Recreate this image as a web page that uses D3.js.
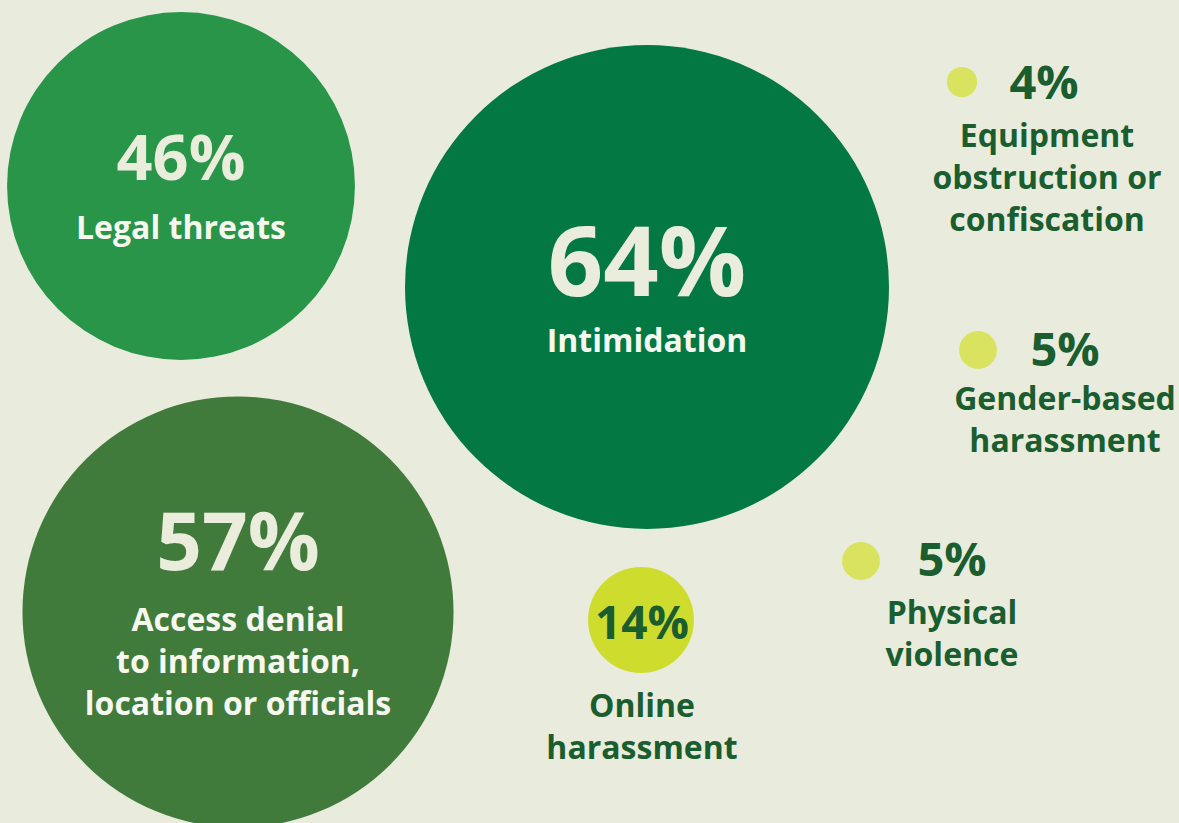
<!DOCTYPE html>
<html>
<head>
<meta charset="utf-8">
<script src="https://cdn.jsdelivr.net/npm/d3@7"></script>
<style>
  html, body { margin: 0; padding: 0; background: #e9ecdc; }
  svg { display: block; }
  text { font-family: "Open Sans", "Noto Sans", sans-serif; font-weight: 700; }
</style>
</head>
<body>
<svg id="chart" width="1179" height="823"></svg>
<script>
// Share of respondents reporting each type of obstruction
const categories = [
  "Legal threats",
  "Intimidation",
  "Access denial to information, location or officials",
  "Online harassment",
  "Equipment obstruction or confiscation",
  "Gender-based harassment",
  "Physical violence"
];
const values = [46, 64, 57, 14, 4, 5, 5];
const labelLines = [
  ["Legal threats"],
  ["Intimidation"],
  ["Access denial", "to information,", "location or officials"],
  ["Online", "harassment"],
  ["Equipment", "obstruction or", "confiscation"],
  ["Gender-based", "harassment"],
  ["Physical", "violence"]
];

// Hand-placed bubble layout (centre, where the value and the label sit)
const layout = [
  { cx: 181, cy: 186, fill: "#289548", inside: true,  vx: 181, vy: 180, vSize: 63, lx: 181, ly: 239 },
  { cx: 647, cy: 287, fill: "#037843", inside: true,  vx: 647, vy: 296, vSize: 97, lx: 647, ly: 352 },
  { cx: 238, cy: 612, fill: "#417b3b", inside: true,  vx: 238, vy: 570, vSize: 80, lx: 238, ly: 631 },
  { cx: 641, cy: 620, fill: "#cddc2d", inside: false, vx: 642, vy: 639, vSize: 46, lx: 642, ly: 717 },
  { cx: 962, cy: 82,  fill: "#d9e35f", inside: false, vx: 1044, vy: 99,  vSize: 47, lx: 1047, ly: 147 },
  { cx: 978, cy: 350, fill: "#d9e35f", inside: false, vx: 1065, vy: 366, vSize: 47, lx: 1065, ly: 410 },
  { cx: 861, cy: 561, fill: "#d9e35f", inside: false, vx: 952, vy: 576, vSize: 47, lx: 952, ly: 624 }
];

const labelSize = 32;
const lineHeight = 42;
const lightText = "#eaecdc";
const darkText = "#1a5d2f";

// Radius grows linearly with the share
const r = d3.scaleLinear().domain([0, d3.max(values)]).range([0, 242]);

const data = categories.map((c, i) => ({
  category: c, value: values[i], lines: labelLines[i], ...layout[i]
}));

const svg = d3.select("#chart");

const g = svg.selectAll("g.bubble")
  .data(data)
  .join("g")
  .attr("class", "bubble");

g.append("circle")
  .attr("cx", d => d.cx)
  .attr("cy", d => d.cy)
  .attr("r", d => r(d.value))
  .attr("fill", d => d.fill);

g.append("text")
  .attr("x", d => d.vx)
  .attr("y", d => d.vy)
  .attr("text-anchor", "middle")
  .attr("font-size", d => d.vSize)
  .attr("fill", d => d.inside ? lightText : darkText)
  .text(d => d.value + "%");

g.append("text")
  .attr("text-anchor", "middle")
  .attr("font-size", labelSize)
  .attr("fill", d => d.inside ? "#f6f7ef" : darkText)
  .selectAll("tspan")
  .data(d => d.lines.map((line, k) => ({ line, k, d })))
  .join("tspan")
  .attr("x", t => t.d.lx)
  .attr("y", t => t.d.ly + t.k * lineHeight)
  .text(t => t.line);
</script>
</body>
</html>
